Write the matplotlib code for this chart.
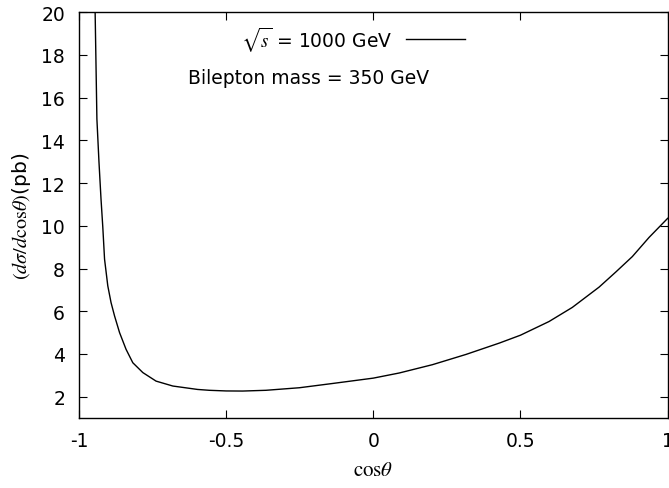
import numpy as np
import matplotlib
matplotlib.use('Agg')
from matplotlib import pyplot as plt

plt.rcParams['font.family'] = ['DejaVu Sans']
plt.rcParams['mathtext.fontset'] = 'stix'

# values
cos_theta = [-0.945, -0.942, -0.939, -0.932, -0.925, -0.919, -0.913, -0.902,
             -0.891, -0.879, -0.862, -0.840, -0.817, -0.783, -0.738, -0.681,
             -0.597, -0.557, -0.500, -0.444, -0.365, -0.251, -0.138, 0.000,
             0.088, 0.201, 0.315, 0.428, 0.500, 0.597, 0.676, 0.767,
             0.824, 0.880, 0.937, 1.000]
dsigma = [20.0, 17.5, 15.0, 13.0, 11.25, 9.95, 8.44, 7.19,
          6.41, 5.78, 5.0, 4.22, 3.59, 3.13, 2.73, 2.50,
          2.34, 2.30, 2.27, 2.265, 2.30, 2.42, 2.62, 2.87,
          3.11, 3.50, 3.98, 4.51, 4.88, 5.52, 6.18, 7.13,
          7.84, 8.56, 9.46, 10.35]
xticks = [-1, -0.5, 0, 0.5, 1]
xtick_labels = ['-1', '-0.5', '0', '0.5', '1']
yticks = [2, 4, 6, 8, 10, 12, 14, 16, 18, 20]

fig = plt.figure(figsize=(6.69, 4.89), dpi=100)
ax = fig.add_axes([0.118, 0.143, 0.880, 0.830])

ax.plot(cos_theta, dsigma, color='black', linewidth=1.0)
ax.set_xlim(-1, 1)
ax.set_ylim(1, 20)
ax.set_xticks(xticks)
ax.set_xticklabels(xtick_labels)
ax.set_yticks(yticks)
ax.tick_params(direction='in', length=6, width=0.8, top=True, right=True,
               labelsize=13.5)
ax.tick_params(axis='x', pad=9)
ax.tick_params(axis='y', pad=10)
for sp in ax.spines.values():
    sp.set_linewidth(1.0)

ax.set_xlabel(r'$\mathrm{cos}\theta$', fontsize=15, labelpad=7)
ax.set_ylabel(r'$(d\sigma/d\mathrm{cos}\theta)$(pb)', fontsize=14.5, labelpad=6)

# key entry
ax.text(0.532, 0.935, r'$\sqrt{s}$ = 1000 GeV', transform=ax.transAxes,
        ha='right', va='center', fontsize=13.5)
ax.plot([0.555, 0.655], [0.935, 0.935], transform=ax.transAxes,
        color='black', linewidth=1.0)
ax.text(0.39, 0.84, 'Bilepton mass = 350 GeV', transform=ax.transAxes,
        ha='center', va='center', fontsize=13.5)

fig.savefig('out.png', dpi=100)
